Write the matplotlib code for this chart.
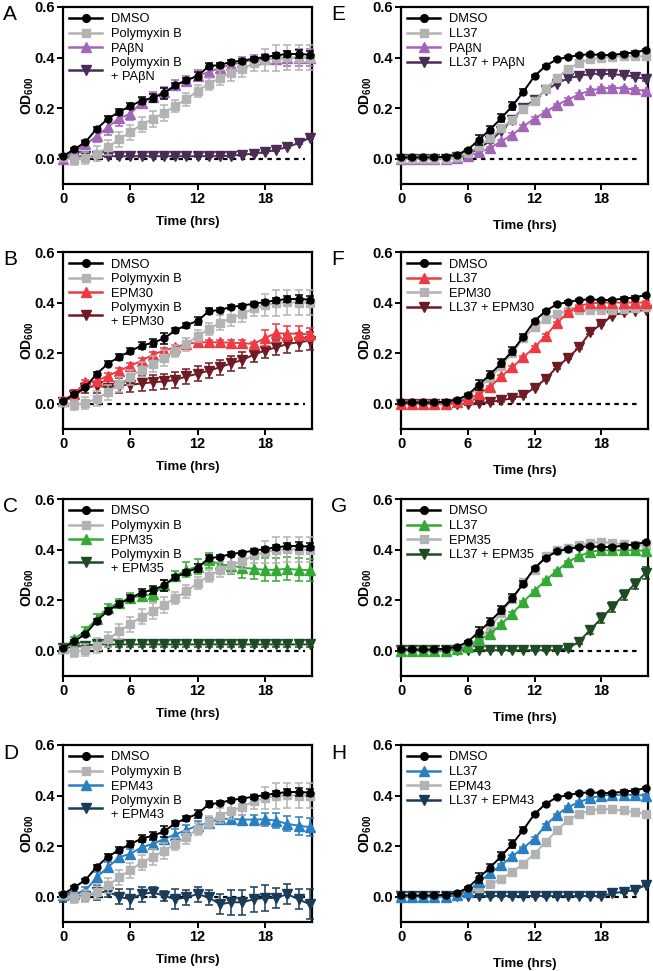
import matplotlib
matplotlib.use("Agg")
import matplotlib.pyplot as plt
from matplotlib.lines import Line2D

plt.rcParams['font.family'] = ['Liberation Sans', 'DejaVu Sans']
plt.rcParams['mathtext.fontset'] = 'custom'
plt.rcParams['mathtext.bf'] = 'Liberation Sans:bold'
plt.rcParams['mathtext.rm'] = 'Liberation Sans'

# ---------------- data ----------------
hours = list(range(23))

# left column (Polymyxin B series)
dmso_left = [0.01, 0.037, 0.066, 0.118, 0.158, 0.185, 0.208, 0.23, 0.241, 0.258, 0.29, 0.311,
             0.327, 0.366, 0.371, 0.383, 0.388, 0.396, 0.402, 0.409, 0.414, 0.414, 0.412]
dmso_left_err = [0.005, 0.005, 0.006, 0.008, 0.01, 0.012, 0.012, 0.015, 0.015, 0.02, 0.01, 0.01,
                 0.015, 0.012, 0.008, 0.008, 0.008, 0.008, 0.008, 0.01, 0.012, 0.015, 0.015]
pmb = [0.005, -0.005, 0.003, 0.02, 0.045, 0.077, 0.105, 0.135, 0.157, 0.181, 0.209, 0.235,
       0.268, 0.296, 0.32, 0.339, 0.355, 0.377, 0.39, 0.398, 0.401, 0.40, 0.40]
pmb_err = [0.01, 0.02, 0.025, 0.03, 0.03, 0.03, 0.03, 0.03, 0.03, 0.03, 0.025, 0.025,
           0.025, 0.025, 0.03, 0.03, 0.03, 0.03, 0.045, 0.05, 0.05, 0.05, 0.05]

pabn_a = [0.0, 0.026, 0.058, 0.088, 0.125, 0.16, 0.178, 0.222, 0.243, 0.263, 0.29, 0.309,
          0.329, 0.342, 0.36, 0.372, 0.382, 0.39, 0.394, 0.396, 0.397, 0.40, 0.40]
pabn_a_err = [0.01, 0.01, 0.015, 0.02, 0.03, 0.03, 0.025, 0.02, 0.02, 0.02, 0.02, 0.02,
              0.02, 0.02, 0.02, 0.02, 0.02, 0.02, 0.02, 0.02, 0.03, 0.035, 0.035]
pmb_pabn = [0.0, 0.01, 0.01, 0.01, 0.01, 0.01, 0.01, 0.01, 0.01, 0.01, 0.01, 0.01,
            0.01, 0.01, 0.01, 0.012, 0.016, 0.02, 0.026, 0.035, 0.046, 0.062, 0.082]
pmb_pabn_err = [0.005] * 23

epm30_b = [0.012, 0.04, 0.085, 0.09, 0.11, 0.13, 0.15, 0.17, 0.194, 0.21, 0.223, 0.236,
           0.243, 0.243, 0.243, 0.241, 0.24, 0.236, 0.26, 0.279, 0.277, 0.277, 0.274]
epm30_b_err = [0.01, 0.01, 0.01, 0.01, 0.01, 0.01, 0.01, 0.01, 0.01, 0.01, 0.01, 0.01,
               0.015, 0.01, 0.01, 0.01, 0.01, 0.01, 0.03, 0.035, 0.03, 0.03, 0.025]
pmb_epm30 = [0.007, 0.033, 0.062, 0.072, 0.064, 0.072, 0.075, 0.08, 0.085, 0.088, 0.094, 0.108,
             0.118, 0.131, 0.144, 0.16, 0.173, 0.194, 0.21, 0.223, 0.236, 0.243, 0.249]
pmb_epm30_err = [0.01, 0.02, 0.02, 0.03, 0.03, 0.03, 0.03, 0.03, 0.03, 0.03, 0.03, 0.03,
                 0.03, 0.03, 0.03, 0.03, 0.03, 0.03, 0.03, 0.03, 0.035, 0.035, 0.035]

epm35_c = [0.01, 0.046, 0.079, 0.127, 0.17, 0.19, 0.21, 0.216, 0.223, 0.258, 0.295, 0.32,
           0.332, 0.358, 0.341, 0.337, 0.328, 0.324, 0.32, 0.32, 0.324, 0.32, 0.319]
epm35_c_err = [0.01, 0.01, 0.015, 0.02, 0.015, 0.015, 0.02, 0.02, 0.025, 0.02, 0.02, 0.03,
               0.03, 0.03, 0.03, 0.035, 0.04, 0.04, 0.045, 0.045, 0.045, 0.045, 0.045]
pmb_epm35 = [0.01, 0.015, 0.02] + [0.025] * 20
pmb_epm35_err = [0.01] * 23

epm43_d = [0.005, 0.01, 0.024, 0.077, 0.116, 0.156, 0.17, 0.195, 0.209, 0.228, 0.246, 0.264,
           0.281, 0.292, 0.308, 0.308, 0.305, 0.305, 0.306, 0.301, 0.288, 0.281, 0.275]
epm43_d_err = [0.01, 0.01, 0.015, 0.02, 0.02, 0.02, 0.02, 0.02, 0.02, 0.02, 0.02, 0.02,
               0.02, 0.02, 0.02, 0.02, 0.02, 0.02, 0.025, 0.03, 0.03, 0.035, 0.035]
pmb_epm43 = [0.0, 0.0, 0.004, 0.017, 0.02, 0.0, -0.01, 0.01, 0.017, 0.004, -0.01, -0.003,
             0.01, -0.003, -0.03, -0.022, -0.022, -0.01, -0.005, -0.005, 0.01, -0.01, -0.03]
pmb_epm43_err = [0.02, 0.02, 0.02, 0.03, 0.02, 0.03, 0.04, 0.03, 0.02, 0.02, 0.04, 0.03,
                 0.03, 0.03, 0.04, 0.05, 0.05, 0.05, 0.05, 0.04, 0.04, 0.04, 0.06]

# right column (LL37 series)
dmso_right = [0.005, 0.005, 0.005, 0.005, 0.008, 0.015, 0.035, 0.075, 0.115, 0.16, 0.208, 0.265,
              0.327, 0.367, 0.393, 0.402, 0.41, 0.413, 0.41, 0.41, 0.416, 0.42, 0.43]
dmso_right_err = [0.005, 0.005, 0.005, 0.005, 0.005, 0.005, 0.005, 0.02, 0.015, 0.015, 0.015, 0.01,
                  0.005, 0.005, 0.005, 0.005, 0.005, 0.005, 0.005, 0.005, 0.005, 0.005, 0.005]
small_err = [0.005] * 23

ll37_e = [0.0, 0.0, 0.0, 0.0, 0.0, 0.005, 0.022, 0.049, 0.08, 0.12, 0.155, 0.195,
          0.228, 0.275, 0.32, 0.354, 0.38, 0.393, 0.4, 0.403, 0.405, 0.405, 0.405]
pabn_e = [0.0, 0.0, 0.0, 0.0, 0.0, 0.002, 0.01, 0.025, 0.042, 0.069, 0.095, 0.128,
          0.159, 0.185, 0.212, 0.234, 0.254, 0.27, 0.278, 0.281, 0.278, 0.274, 0.268]
ll37_pabn = [0.0, 0.0, 0.0, 0.0, 0.0, 0.005, 0.016, 0.042, 0.069, 0.109, 0.155, 0.2,
             0.234, 0.27, 0.297, 0.318, 0.327, 0.336, 0.336, 0.334, 0.331, 0.325, 0.314]

ll37_f = [0.0, 0.0, 0.0, 0.0, 0.0, 0.005, 0.017, 0.039, 0.066, 0.108, 0.144, 0.184,
          0.223, 0.269, 0.318, 0.361, 0.387, 0.397, 0.4, 0.4, 0.4, 0.4, 0.4]
epm30_f = [0.0, 0.0, 0.0, 0.0, 0.0, 0.01, 0.03, 0.065, 0.1, 0.15, 0.2, 0.26,
           0.302, 0.334, 0.354, 0.367, 0.37, 0.37, 0.37, 0.37, 0.374, 0.378, 0.383]
ll37_epm30 = [0.0, 0.0, 0.0, 0.0, 0.0, 0.0, 0.0, 0.003, 0.007, 0.013, 0.022, 0.033,
              0.063, 0.098, 0.144, 0.181, 0.223, 0.282, 0.315, 0.348, 0.361, 0.367, 0.37]

ll37_g = [0.0, 0.0, 0.0, 0.0, 0.0, 0.005, 0.015, 0.042, 0.066, 0.105, 0.147, 0.193,
          0.237, 0.279, 0.316, 0.351, 0.374, 0.391, 0.397, 0.397, 0.397, 0.397, 0.395]
epm35_g = [0.0, 0.0, 0.0, 0.0, 0.0, 0.01, 0.025, 0.045, 0.09, 0.15, 0.205, 0.27,
           0.32, 0.374, 0.397, 0.407, 0.417, 0.426, 0.43, 0.426, 0.421, 0.417, 0.417]
ll37_epm35 = [0.002] * 15 + [0.009, 0.036, 0.082, 0.128, 0.174, 0.22, 0.263, 0.308]
ll37_epm35_err = [0.005] * 15 + [0.005, 0.01, 0.015, 0.02, 0.02, 0.02, 0.02, 0.025]

ll37_h = [0.0, 0.0, 0.0, 0.0, 0.0, 0.005, 0.02, 0.059, 0.092, 0.125, 0.16, 0.193,
          0.23, 0.282, 0.324, 0.354, 0.374, 0.39, 0.4, 0.403, 0.403, 0.403, 0.4]
epm43_h = [0.0, 0.0, 0.0, 0.0, 0.0, 0.005, 0.02, 0.035, 0.049, 0.07, 0.098, 0.131,
           0.17, 0.216, 0.262, 0.302, 0.328, 0.341, 0.348, 0.345, 0.341, 0.334, 0.328]
ll37_epm43 = [0.003] * 19 + [0.013, 0.02, 0.026, 0.046]

# ---------------- styles ----------------
BLACK = '#000000'
GRAY = '#b3b3b3'
PURPLE = '#a365b8'
DPURPLE = '#4b2c55'
RED = '#ee3a43'
DRED = '#6e1b24'
GREEN = '#35a936'
DGREEN = '#1e4b24'
BLUE = '#2a7fc1'
DBLUE = '#1b3c58'

MARK = {'o': 5, 's': 5.5, '^': 6.5, 'v': 6.5}

panels = [
    ('A', (0, 0), [('DMSO', dmso_left, dmso_left_err, BLACK, 'o'),
                   ('Polymyxin B', pmb, pmb_err, GRAY, 's'),
                   ('PAβN', pabn_a, pabn_a_err, PURPLE, '^'),
                   ('Polymyxin B\n+ PAβN', pmb_pabn, pmb_pabn_err, DPURPLE, 'v')]),
    ('B', (1, 0), [('DMSO', dmso_left, dmso_left_err, BLACK, 'o'),
                   ('Polymyxin B', pmb, pmb_err, GRAY, 's'),
                   ('EPM30', epm30_b, epm30_b_err, RED, '^'),
                   ('Polymyxin B\n+ EPM30', pmb_epm30, pmb_epm30_err, DRED, 'v')]),
    ('C', (2, 0), [('DMSO', dmso_left, dmso_left_err, BLACK, 'o'),
                   ('Polymyxin B', pmb, pmb_err, GRAY, 's'),
                   ('EPM35', epm35_c, epm35_c_err, GREEN, '^'),
                   ('Polymyxin B\n+ EPM35', pmb_epm35, pmb_epm35_err, DGREEN, 'v')]),
    ('D', (3, 0), [('DMSO', dmso_left, dmso_left_err, BLACK, 'o'),
                   ('Polymyxin B', pmb, pmb_err, GRAY, 's'),
                   ('EPM43', epm43_d, epm43_d_err, BLUE, '^'),
                   ('Polymyxin B\n+ EPM43', pmb_epm43, pmb_epm43_err, DBLUE, 'v')]),
    ('E', (0, 1), [('DMSO', dmso_right, dmso_right_err, BLACK, 'o'),
                   ('LL37', ll37_e, small_err, GRAY, 's'),
                   ('PAβN', pabn_e, small_err, PURPLE, '^'),
                   ('LL37 + PAβN', ll37_pabn, small_err, DPURPLE, 'v')]),
    ('F', (1, 1), [('DMSO', dmso_right, dmso_right_err, BLACK, 'o'),
                   ('LL37', ll37_f, small_err, RED, '^'),
                   ('EPM30', epm30_f, small_err, GRAY, 's'),
                   ('LL37 + EPM30', ll37_epm30, small_err, DRED, 'v')]),
    ('G', (2, 1), [('DMSO', dmso_right, dmso_right_err, BLACK, 'o'),
                   ('LL37', ll37_g, small_err, GREEN, '^'),
                   ('EPM35', epm35_g, small_err, GRAY, 's'),
                   ('LL37 + EPM35', ll37_epm35, ll37_epm35_err, DGREEN, 'v')]),
    ('H', (3, 1), [('DMSO', dmso_right, dmso_right_err, BLACK, 'o'),
                   ('LL37', ll37_h, small_err, BLUE, '^'),
                   ('EPM43', epm43_h, small_err, GRAY, 's'),
                   ('LL37 + EPM43', ll37_epm43, small_err, DBLUE, 'v')]),
]

W, H = 653, 971
fig = plt.figure(figsize=(W / 100, H / 100), dpi=100)

col_left = [63, 401]
col_width = [249, 247]
row_top = [7, 252, 499, 745]
ax_h = 177

xticks = [0, 6, 12, 18]
yticks = [0.0, 0.2, 0.4, 0.6]

for letter, (r, c), series in panels:
    left = col_left[c] / W
    bottom = 1 - (row_top[r] + ax_h) / H
    ax = fig.add_axes([left, bottom, col_width[c] / W, ax_h / H])
    ax.set_xlim(0, 22.2)
    ax.set_ylim(-0.1, 0.6)
    ax.axhline(0, color='black', lw=1.6, ls=(0, (2, 2)), zorder=1, xmax=21.6 / 22.2)
    handles = []
    n = len(series)
    for i, (lab, y, e, col, mk) in enumerate(series):
        ax.errorbar(hours, y, yerr=e, color=col, marker=mk, ms=MARK[mk], lw=1.4,
                    elinewidth=1.1, capsize=3.2, capthick=1.1, clip_on=False,
                    zorder=10 + (n - i))
        handles.append(Line2D([], [], color=col, marker=mk, ms=MARK[mk] + 0.5, lw=1.8))
    ax.set_xticks(xticks)
    ax.set_yticks(yticks)
    ax.set_yticklabels(['0.0', '0.2', '0.4', '0.6'])
    for sp in ax.spines.values():
        sp.set_linewidth(1.6)
    ax.tick_params(direction='out', length=4, width=1.4, labelsize=10.5, pad=2)
    for lbl in ax.get_xticklabels() + ax.get_yticklabels():
        lbl.set_fontweight('bold')
    ax.set_xlabel('Time (hrs)', fontsize=9.5, fontweight='bold', labelpad=7 if c == 0 else 10)
    ax.set_ylabel(r'$\mathbf{OD_{600}}$', fontsize=10)
    ax.yaxis.set_label_coords(-27 / col_width[c], 0.5)
    ax.legend(handles, [s[0] for s in series], loc='upper left',
              bbox_to_anchor=(0.0, 1.0), frameon=False, fontsize=9.3,
              handlelength=2.5, handletextpad=0.75, labelspacing=0.2,
              borderaxespad=0.2, borderpad=0.3)
    fig.text((3 if c == 0 else 331) / W, 1 - 15 / H - (row_top[r] - 7) / H, letter,
             fontsize=15, va='center', ha='left')

fig.savefig('out.png', dpi=100)
